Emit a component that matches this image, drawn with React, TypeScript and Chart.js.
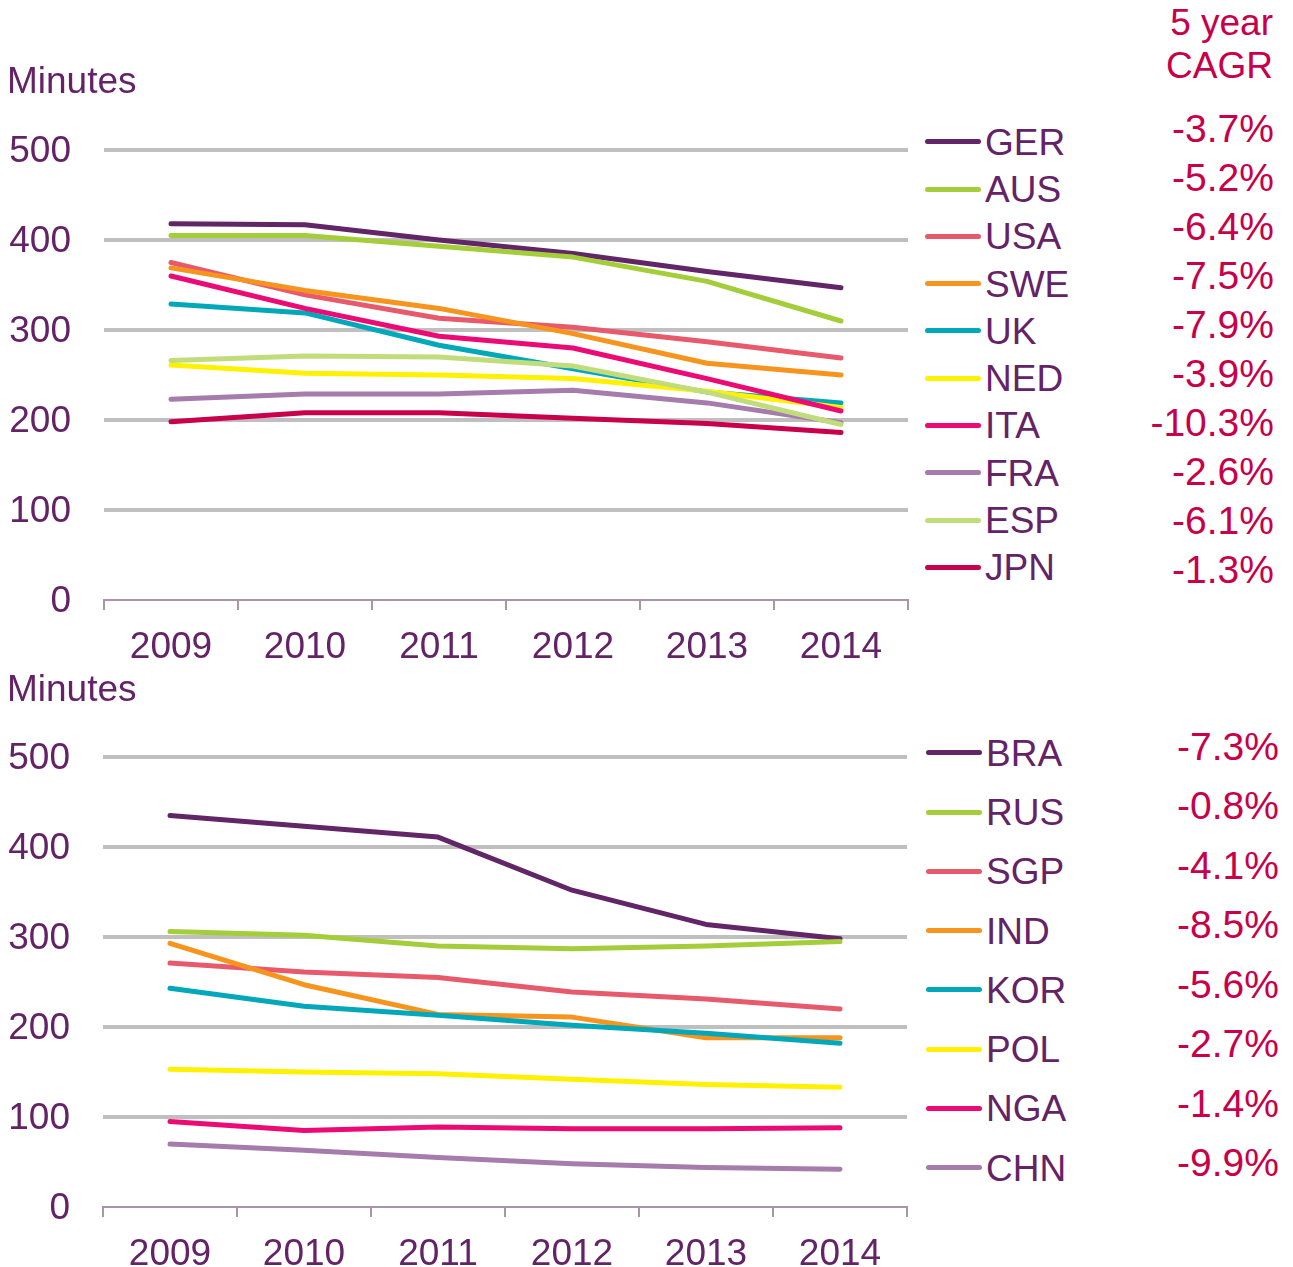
import React, { useEffect, useRef } from "react";
import { Chart, registerables } from "chart.js";

Chart.register(...registerables);

const FONT = "'Liberation Sans', Arial, Helvetica, sans-serif";
const TEXT = "#642367";
const RED = "#C8004A";
const GRID = "#BFBFBF";
const AXIS = "#A895A8";

const years = ["2009", "2010", "2011", "2012", "2013", "2014"];
const yTicks = [0, 100, 200, 300, 400, 500];

// Top panel
const topNames = ["GER", "AUS", "USA", "SWE", "UK", "NED", "ITA", "FRA", "ESP", "JPN"];
const topColors = ["#622567", "#A4CD3A", "#E75A6B", "#F7941E", "#00A8BA", "#FFF100", "#EC0A74", "#A57CAB", "#C1DD7B", "#C9004B"];
const GER = [418, 417, 400, 385, 365, 347];
const AUS = [405, 405, 393, 381, 354, 310];
const USA = [375, 339, 313, 303, 287, 269];
const SWE = [369, 344, 324, 296, 263, 250];
const UK = [329, 319, 283, 257, 231, 219];
const NED = [261, 252, 250, 246, 232, 214];
const ITA = [360, 324, 293, 280, 246, 210];
const FRA = [223, 229, 229, 233, 219, 197];
const ESP = [266, 271, 270, 260, 231, 195];
const JPN = [198, 208, 208, 202, 196, 186];
const topSeries = [GER, AUS, USA, SWE, UK, NED, ITA, FRA, ESP, JPN];
const topCagr = ["-3.7%", "-5.2%", "-6.4%", "-7.5%", "-7.9%", "-3.9%", "-10.3%", "-2.6%", "-6.1%", "-1.3%"];

// Bottom panel
const bottomNames = ["BRA", "RUS", "SGP", "IND", "KOR", "POL", "NGA", "CHN"];
const bottomColors = ["#622567", "#A4CD3A", "#E75A6B", "#F7941E", "#00A8BA", "#FFF100", "#EC0A74", "#A57CAB"];
const BRA = [435, 423, 411, 352, 314, 298];
const RUS = [306, 302, 290, 287, 290, 295];
const SGP = [271, 261, 255, 239, 231, 220];
const IND = [293, 247, 214, 211, 188, 188];
const KOR = [243, 223, 213, 202, 193, 182];
const POL = [153, 150, 148, 142, 136, 133];
const NGA = [95, 85, 89, 87, 87, 88];
const CHN = [70, 63, 55, 48, 44, 42];
const bottomSeries = [BRA, RUS, SGP, IND, KOR, POL, NGA, CHN];
const bottomCagr = ["-7.3%", "-0.8%", "-4.1%", "-8.5%", "-5.6%", "-2.7%", "-1.4%", "-9.9%"];

const FS = 37;
const CFS = 39;

type PanelProps = {
  top: number;
  left: number;
  names: string[];
  colors: string[];
  series: number[][];
};

function LineChart({ top, left, names, colors, series }: PanelProps) {
  const ref = useRef<HTMLCanvasElement | null>(null);
  useEffect(() => {
    const n = names.length;
    const chart = new Chart(ref.current as HTMLCanvasElement, {
      type: "line",
      data: {
        labels: years,
        datasets: names.map((name, i) => ({
          label: name,
          data: series[i],
          borderColor: colors[i],
          backgroundColor: colors[i],
          borderWidth: 5,
          pointRadius: 0,
          pointHoverRadius: 0,
          tension: 0,
          fill: false,
          borderCapStyle: "round" as const,
          borderJoinStyle: "round" as const,
          order: n - i,
        })),
      },
      options: {
        responsive: false,
        animation: false,
        layout: { padding: { top: 150, right: 12, left: 0, bottom: 0 } },
        plugins: { legend: { display: false }, tooltip: { enabled: false } },
        scales: {
          x: {
            type: "category",
            offset: true,
            grid: {
              display: true,
              drawOnChartArea: false,
              drawTicks: true,
              tickLength: 10,
              color: AXIS,
              lineWidth: 2,
              offset: true,
            },
            border: { display: true, color: AXIS, width: 2 },
            ticks: {
              color: TEXT,
              font: { family: FONT, size: FS },
              padding: 16,
              maxRotation: 0,
              autoSkip: false,
            },
            afterFit: (s: any) => {
              s.height = 80;
            },
          },
          y: {
            min: 0,
            max: 500,
            afterBuildTicks: (s: any) => {
              s.ticks = yTicks.map((v) => ({ value: v }));
            },
            grid: {
              color: (ctx: any) => (ctx.tick && ctx.tick.value === 0 ? "rgba(0,0,0,0)" : GRID),
              lineWidth: 4,
              drawTicks: false,
            },
            border: { display: false },
            ticks: {
              color: TEXT,
              font: { family: FONT, size: FS },
              padding: 33,
              labelOffset: 2,
            },
            afterFit: (s: any) => {
              s.width = 104;
            },
          },
        },
      },
    });
    return () => chart.destroy();
  }, []);
  return (
    <canvas
      ref={ref}
      width={920}
      height={680}
      style={{ position: "absolute", left, top, width: 920, height: 680 }}
    />
  );
}

function Txt({ x, baseline, children, color, align, size }: { x: number; baseline: number; children: any; color: string; align?: "right"; size?: number }) {
  const fs = size || FS;
  const style: any = {
    position: "absolute",
    top: baseline - 0.8465 * fs,
    fontFamily: FONT,
    fontSize: fs,
    lineHeight: "1",
    color,
    whiteSpace: "nowrap",
  };
  if (align === "right") {
    style.right = 1293 - x;
    style.textAlign = "right";
  } else {
    style.left = x;
  }
  return <div style={style}>{children}</div>;
}

function Legend({ names, colors, baseline0, step, lineX, textX }: { names: string[]; colors: string[]; baseline0: number; step: number; lineX: number; textX: number }) {
  return (
    <>
      {names.map((nm, i) => {
        const b = baseline0 + i * step;
        const cy = b - 13.3;
        return (
          <React.Fragment key={nm}>
            <div
              style={{
                position: "absolute",
                left: lineX,
                top: cy - 2.5,
                width: 56,
                height: 5,
                borderRadius: 3,
                background: colors[i],
              }}
            />
            <Txt x={textX} baseline={b} color={TEXT}>
              {nm}
            </Txt>
          </React.Fragment>
        );
      })}
    </>
  );
}

function Cagr({ values, baseline0, step, right }: { values: string[]; baseline0: number; step: number; right: number }) {
  return (
    <>
      {values.map((v, i) => (
        <Txt key={i} x={right} baseline={baseline0 + i * step} color={RED} align="right" size={CFS}>
          {v}
        </Txt>
      ))}
    </>
  );
}

export default function App() {
  return (
    <div
      style={{
        position: "absolute",
        left: 0,
        top: 0,
        width: 1293,
        height: 1267,
        overflow: "hidden",
        background: "#ffffff",
      }}
    >
      <LineChart top={0} left={0} names={topNames} colors={topColors} series={topSeries} />
      <LineChart top={607} left={-1} names={bottomNames} colors={bottomColors} series={bottomSeries} />

      <Txt x={7} baseline={93} color={TEXT}>Minutes</Txt>
      <Txt x={7} baseline={701} color={TEXT}>Minutes</Txt>

      <Txt x={1273} baseline={35} color={RED} align="right">5 year</Txt>
      <Txt x={1273} baseline={78.5} color={RED} align="right">CAGR</Txt>

      <Legend names={topNames} colors={topColors} baseline0={155} step={47.3} lineX={925} textX={985} />
      <Cagr values={topCagr} baseline0={142} step={49.0} right={1274} />

      <Legend names={bottomNames} colors={bottomColors} baseline0={766} step={59.3} lineX={926} textX={986} />
      <Cagr values={bottomCagr} baseline0={760} step={59.5} right={1279} />
    </div>
  );
}
